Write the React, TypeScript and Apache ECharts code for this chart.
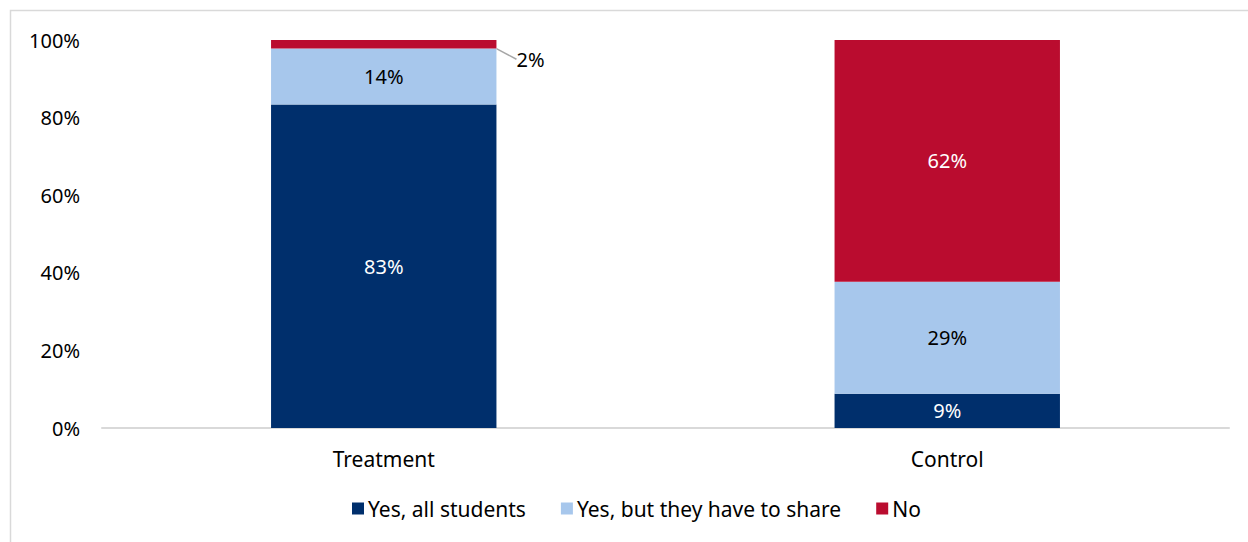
import React, { useEffect, useRef } from "react";
import * as echarts from "echarts";

const categories = ["Treatment", "Control"];
const yesAll = [83.4, 8.8];
const yesShare = [14.4, 28.9];
const no = [2.2, 62.3];
const seriesNames = ["Yes, all students", "Yes, but they have to share", "No"];
const colors = ["#002F6C", "#A7C7EC", "#BA0C2F"];
const FONT = "'Noto Sans', 'Open Sans', sans-serif";

export default function App() {
  const ref = useRef<HTMLDivElement>(null);
  useEffect(() => {
    if (!ref.current) return;
    const chart = echarts.init(ref.current, null, { renderer: "svg" });
    const fmt = (p: any) => Math.round(p.value) + "%";
    chart.setOption({
      animation: false,
      textStyle: { fontFamily: FONT },
      graphic: [
        {
          type: "rect",
          shape: { x: 10.5, y: 10.5, width: 1260, height: 560 },
          style: { fill: "none", stroke: "#d9d9d9", lineWidth: 1.5 },
          silent: true,
        },
      ],
      grid: { left: 102, right: 19, top: 40, bottom: 114, containLabel: false },
      legend: {
        bottom: 18,
        left: 347,
        itemWidth: 12,
        itemHeight: 12,
        itemGap: 35,
        icon: "rect",
        textStyle: { fontSize: 21, color: "#000", fontFamily: FONT, padding: [0, 0, 0, -1] },
        data: seriesNames,
      },
      xAxis: {
        type: "category",
        data: categories,
        axisLine: { lineStyle: { color: "#d9d9d9", width: 2 } },
        axisTick: { show: false },
        axisLabel: { color: "#000", fontSize: 21, margin: 20, fontFamily: FONT },
      },
      yAxis: {
        type: "value",
        min: 0,
        max: 100,
        interval: 20,
        axisLine: { show: false },
        axisTick: { show: false },
        splitLine: { show: false },
        axisLabel: { color: "#000", fontSize: 20, margin: 22, formatter: "{value}%", fontFamily: FONT },
      },
      series: [
        {
          name: seriesNames[0],
          type: "bar",
          stack: "s",
          barWidth: "40%",
          data: yesAll,
          itemStyle: { color: colors[0] },
          label: { show: true, position: "inside", color: "#fff", fontSize: 20, formatter: fmt, fontFamily: FONT },
        },
        {
          name: seriesNames[1],
          type: "bar",
          stack: "s",
          data: yesShare,
          itemStyle: { color: colors[1] },
          label: { show: true, position: "inside", color: "#000", fontSize: 20, formatter: fmt, fontFamily: FONT },
        },
        {
          name: seriesNames[2],
          type: "bar",
          stack: "s",
          data: [
            {
              value: no[0],
              label: { position: "right", color: "#000", distance: 2 },
            },
            { value: no[1] },
          ],
          itemStyle: { color: colors[2] },
          label: { show: true, position: "inside", color: "#fff", fontSize: 20, formatter: fmt, fontFamily: FONT },
          labelLayout: (params: any) =>
            params.dataIndex === 0 ? { dx: 18, dy: 15 } : {},
          labelLine: { show: true, lineStyle: { color: "#a6a6a6", width: 1.5 }, smooth: false },
        },
      ],
    });
    return () => chart.dispose();
  }, []);
  return <div ref={ref} style={{ width: 1248, height: 542, position: "absolute", left: 0, top: 0 }} />;
}
